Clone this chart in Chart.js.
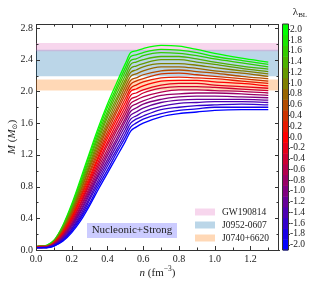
<!DOCTYPE html>
<html lang="en">
<head>
<meta charset="UTF-8" />
<title>M(n) - Nucleonic+Strong</title>
<style>
  html, body { margin: 0; padding: 0; background: #fff; }
  canvas { display: block; }
</style>
</head>
<body>
<canvas id="massChart" width="317" height="284"></canvas>
<script src="https://cdn.jsdelivr.net/npm/chart.js"></script>
<script>
// central density n (fm^-3), shared by every curve
const densities = [0, 0.03, 0.06, 0.1, 0.15, 0.2, 0.25, 0.3, 0.35, 0.4, 0.45, 0.5, 0.53, 0.56, 0.6, 0.7, 0.8, 0.9, 1.0, 1.15, 1.3];

// lambda_BL of each curve
const lambdas = [-2.0, -1.8, -1.6, -1.4, -1.2, -1.0, -0.8, -0.6, -0.4, -0.2, 0.0, 0.2, 0.4, 0.6, 0.8, 1.0, 1.2, 1.4, 1.6, 1.8, 2.0];

// M (Msun) per lambda
const massCurves = [
  [0.03, 0.03, 0.03, 0.05, 0.11, 0.22, 0.37, 0.56, 0.77, 0.97, 1.17, 1.37, 1.50, 1.55, 1.60, 1.68, 1.72, 1.74, 1.76, 1.77, 1.77],
  [0.03, 0.03, 0.03, 0.05, 0.12, 0.24, 0.40, 0.59, 0.81, 1.01, 1.22, 1.42, 1.55, 1.60, 1.65, 1.72, 1.76, 1.78, 1.80, 1.80, 1.80],
  [0.03, 0.03, 0.03, 0.06, 0.13, 0.26, 0.42, 0.63, 0.85, 1.06, 1.26, 1.47, 1.60, 1.65, 1.69, 1.77, 1.80, 1.82, 1.83, 1.84, 1.83],
  [0.03, 0.03, 0.03, 0.06, 0.14, 0.27, 0.45, 0.66, 0.89, 1.10, 1.31, 1.52, 1.65, 1.69, 1.74, 1.81, 1.85, 1.86, 1.87, 1.87, 1.86],
  [0.03, 0.03, 0.03, 0.06, 0.15, 0.29, 0.48, 0.70, 0.93, 1.14, 1.36, 1.57, 1.70, 1.74, 1.79, 1.86, 1.89, 1.90, 1.90, 1.90, 1.89],
  [0.03, 0.03, 0.04, 0.07, 0.16, 0.31, 0.50, 0.73, 0.96, 1.19, 1.40, 1.62, 1.75, 1.79, 1.84, 1.90, 1.93, 1.94, 1.94, 1.93, 1.92],
  [0.03, 0.03, 0.04, 0.07, 0.17, 0.32, 0.53, 0.76, 1.00, 1.23, 1.45, 1.66, 1.80, 1.84, 1.88, 1.95, 1.97, 1.98, 1.98, 1.97, 1.95],
  [0.03, 0.04, 0.04, 0.07, 0.18, 0.34, 0.55, 0.79, 1.04, 1.27, 1.50, 1.71, 1.85, 1.89, 1.93, 1.99, 2.02, 2.02, 2.01, 2.00, 1.98],
  [0.03, 0.04, 0.04, 0.08, 0.19, 0.36, 0.58, 0.83, 1.08, 1.32, 1.54, 1.76, 1.90, 1.93, 1.98, 2.04, 2.06, 2.06, 2.05, 2.03, 2.01],
  [0.03, 0.04, 0.04, 0.08, 0.20, 0.38, 0.60, 0.86, 1.12, 1.36, 1.59, 1.81, 1.95, 1.98, 2.02, 2.08, 2.10, 2.10, 2.08, 2.06, 2.04],
  [0.04, 0.04, 0.04, 0.08, 0.21, 0.40, 0.63, 0.89, 1.16, 1.41, 1.64, 1.86, 2.00, 2.03, 2.07, 2.13, 2.14, 2.14, 2.12, 2.10, 2.07],
  [0.04, 0.04, 0.04, 0.09, 0.22, 0.41, 0.66, 0.92, 1.19, 1.45, 1.68, 1.91, 2.04, 2.08, 2.12, 2.17, 2.18, 2.17, 2.16, 2.13, 2.10],
  [0.04, 0.04, 0.04, 0.09, 0.23, 0.43, 0.68, 0.96, 1.23, 1.49, 1.73, 1.96, 2.09, 2.13, 2.16, 2.22, 2.23, 2.21, 2.19, 2.16, 2.13],
  [0.04, 0.04, 0.05, 0.09, 0.24, 0.45, 0.71, 0.99, 1.27, 1.54, 1.77, 2.01, 2.14, 2.17, 2.21, 2.26, 2.27, 2.25, 2.23, 2.19, 2.16],
  [0.04, 0.05, 0.05, 0.10, 0.25, 0.47, 0.74, 1.03, 1.31, 1.58, 1.82, 2.06, 2.19, 2.22, 2.26, 2.31, 2.31, 2.29, 2.26, 2.23, 2.19],
  [0.04, 0.05, 0.05, 0.10, 0.26, 0.49, 0.76, 1.06, 1.35, 1.62, 1.87, 2.11, 2.24, 2.27, 2.31, 2.35, 2.35, 2.33, 2.30, 2.26, 2.22],
  [0.04, 0.05, 0.05, 0.10, 0.27, 0.50, 0.79, 1.09, 1.39, 1.67, 1.91, 2.15, 2.29, 2.32, 2.35, 2.40, 2.40, 2.37, 2.34, 2.29, 2.25],
  [0.04, 0.05, 0.05, 0.11, 0.28, 0.52, 0.81, 1.13, 1.43, 1.71, 1.96, 2.20, 2.34, 2.37, 2.40, 2.44, 2.44, 2.41, 2.37, 2.32, 2.28],
  [0.04, 0.05, 0.05, 0.11, 0.29, 0.54, 0.84, 1.16, 1.47, 1.75, 2.01, 2.25, 2.39, 2.41, 2.45, 2.49, 2.48, 2.45, 2.41, 2.36, 2.31],
  [0.04, 0.05, 0.06, 0.12, 0.30, 0.56, 0.87, 1.20, 1.51, 1.80, 2.05, 2.30, 2.44, 2.46, 2.49, 2.53, 2.52, 2.49, 2.44, 2.39, 2.34],
  [0.04, 0.05, 0.06, 0.12, 0.31, 0.58, 0.90, 1.23, 1.55, 1.84, 2.10, 2.35, 2.49, 2.51, 2.54, 2.58, 2.57, 2.53, 2.48, 2.42, 2.37]
];

// observed mass bands
const bandNames = ['GW190814', 'J0952-0607', 'J0740+6620'];
const bandLow = [2.505, 2.19, 2.01];
const bandHigh = [2.61, 2.525, 2.15];

const xTicks = [0, 0.2, 0.4, 0.6, 0.8, 1.0, 1.2];
const yTicks = [0, 0.4, 0.8, 1.2, 1.6, 2.0, 2.4, 2.8];

const xMin = 0, xMax = 1.36, yMin = 0, yMax = 2.85;
const bandColors = ['rgba(227,119,194,0.3)', 'rgba(31,119,180,0.3)', 'rgba(255,127,14,0.3)'];
const SERIF = '"Liberation Serif", "Times New Roman", serif';
const INK = '#222';
const FRAME = '#333';

// blue -> red -> green
function lambdaColor(l) {
  if (l < 0) {
    const t = (l + 2) / 2;
    return `rgb(${Math.round(255 * t)},0,${Math.round(255 * (1 - t))})`;
  }
  const t = l / 2;
  return `rgb(${Math.round(255 * (1 - t))},${Math.round(255 * t)},0)`;
}

function drawParts(ctx, parts, x, y, align) {
  let total = 0;
  parts.forEach(p => { ctx.font = p[1]; total += ctx.measureText(p[0]).width; });
  let cx = align === 'center' ? x - total / 2 : x;
  ctx.textAlign = 'left';
  ctx.textBaseline = 'middle';
  parts.forEach(p => {
    ctx.font = p[1];
    ctx.fillText(p[0], cx, y + (p[2] || 0));
    cx += ctx.measureText(p[0]).width;
  });
}

const curveSets = lambdas.map((l, i) => ({
  label: 'lambda ' + l,
  data: densities.map((n, j) => ({ x: n, y: massCurves[i][j] })),
  borderColor: lambdaColor(l),
  borderWidth: 1.3,
  pointRadius: 0,
  cubicInterpolationMode: 'monotone',
  fill: false,
  order: 1
}));

const bandSets = bandNames.map((name, i) => ({
  label: name,
  data: [{ x: xMin, y: bandHigh[i] }, { x: xMax, y: bandHigh[i] }],
  borderWidth: 0,
  pointRadius: 0,
  backgroundColor: bandColors[i],
  fill: { value: bandLow[i] },
  order: 2
}));

const extras = {
  id: 'extras',
  afterDraw(chart) {
    const { ctx, chartArea: a, scales: { x, y, cb } } = chart;
    ctx.save();
    ctx.setLineDash([]);
    ctx.globalAlpha = 1;

    // top and right frame lines, inward ticks on all four sides
    ctx.strokeStyle = FRAME;
    ctx.lineWidth = 1;
    ctx.beginPath();
    ctx.moveTo(a.left, a.top + 0.5); ctx.lineTo(a.right, a.top + 0.5);
    ctx.moveTo(a.right - 0.5, a.top); ctx.lineTo(a.right - 0.5, a.bottom);
    for (let i = 0; i <= 13; i++) {
      const px = Math.round(x.getPixelForValue(i / 10)) + 0.5;
      const len = i % 2 === 0 ? 4 : 2.5;
      ctx.moveTo(px, a.bottom); ctx.lineTo(px, a.bottom - len);
      ctx.moveTo(px, a.top); ctx.lineTo(px, a.top + len);
    }
    for (let i = 0; i <= 14; i++) {
      const py = Math.round(y.getPixelForValue(i / 5)) + 0.5;
      const len = i % 2 === 0 ? 4 : 2.5;
      ctx.moveTo(a.left, py); ctx.lineTo(a.left + len, py);
      ctx.moveTo(a.right, py); ctx.lineTo(a.right - len, py);
    }
    ctx.stroke();

    // colorbar
    const barL = a.right + 4, barW = 5;
    lambdas.forEach(l => {
      const top = cb.getPixelForValue(l + 0.1);
      const bot = cb.getPixelForValue(l - 0.1);
      ctx.fillStyle = lambdaColor(l);
      ctx.fillRect(barL, top, barW, bot - top + 0.5);
    });
    ctx.beginPath();
    ctx.rect(barL - 0.5, cb.top, barW + 1, cb.bottom - cb.top);
    lambdas.forEach(l => {
      const py = Math.round(cb.getPixelForValue(l)) + 0.5;
      ctx.moveTo(barL + barW, py); ctx.lineTo(barL + barW + 2, py);
    });
    ctx.stroke();
    ctx.fillStyle = INK;
    drawParts(ctx, [['λ', '11px ' + SERIF], ['BL', '7px ' + SERIF, 3]], 300, 12, 'center');

    // band legend
    bandNames.forEach((name, i) => {
      const cy = a.bottom - 38 + i * 13;
      ctx.fillStyle = bandColors[i];
      ctx.fillRect(a.right - 84, cy - 3.5, 20, 7);
      ctx.fillStyle = INK;
      ctx.font = '9.5px ' + SERIF;
      ctx.textAlign = 'left';
      ctx.textBaseline = 'middle';
      ctx.fillText(name, a.right - 57, cy);
    });

    // model label box
    ctx.fillStyle = 'rgba(0,0,255,0.2)';
    ctx.fillRect(87, a.bottom - 27, 90, 15);
    ctx.fillStyle = INK;
    ctx.font = '11px ' + SERIF;
    ctx.textAlign = 'center';
    ctx.textBaseline = 'middle';
    ctx.fillText('Nucleonic+Strong', 132, a.bottom - 19.5);

    // axis titles
    const cx = (a.left + a.right) / 2;
    drawParts(ctx, [['n', 'italic 11px ' + SERIF], [' (fm', '11px ' + SERIF], ['−3', '7.5px ' + SERIF, -4], [')', '11px ' + SERIF]], cx, 273, 'center');
    ctx.translate(12, (a.top + a.bottom) / 2);
    ctx.rotate(-Math.PI / 2);
    drawParts(ctx, [['M', 'italic 11px ' + SERIF], [' (', '11px ' + SERIF], ['M', 'italic 11px ' + SERIF], ['⊙', '7px "DejaVu Sans"', 3], [')', '11px ' + SERIF]], 0, 0, 'center');
    ctx.restore();
  }
};

const tickFont = { family: SERIF, size: 10 };

new Chart(document.getElementById('massChart'), {
  type: 'line',
  data: { datasets: [...curveSets, ...bandSets] },
  options: {
    responsive: false,
    animation: false,
    events: [],
    layout: { padding: { top: 24, left: 0, right: 0, bottom: 0 } },
    plugins: { legend: { display: false }, tooltip: { enabled: false } },
    scales: {
      x: {
        type: 'linear', min: xMin, max: xMax,
        grid: { display: false, drawTicks: false }, border: { display: true, color: FRAME, width: 1 },
        afterBuildTicks: s => { s.ticks = xTicks.map(v => ({ value: v })); },
        afterFit: s => { s.height = 34; },
        ticks: { font: tickFont, color: INK, padding: 3, maxRotation: 0, autoSkip: false, callback: v => v.toFixed(1) }
      },
      y: {
        type: 'linear', min: yMin, max: yMax,
        grid: { display: false, drawTicks: false }, border: { display: true, color: FRAME, width: 1 },
        afterBuildTicks: s => { s.ticks = yTicks.map(v => ({ value: v })); },
        afterFit: s => { s.width = 36; },
        ticks: { font: tickFont, color: INK, padding: 3, autoSkip: false, callback: v => v.toFixed(1) }
      },
      cb: {
        type: 'linear', position: 'right', min: -2.1, max: 2.1,
        grid: { display: false, drawTicks: false }, border: { display: false },
        afterBuildTicks: s => { s.ticks = lambdas.map(v => ({ value: v })); },
        afterFit: s => { s.width = 38; },
        ticks: { font: { family: SERIF, size: 9.5 }, color: INK, padding: 11, autoSkip: false, callback: v => v.toFixed(1) }
      }
    }
  },
  plugins: [extras]
});
</script>
</body>
</html>
